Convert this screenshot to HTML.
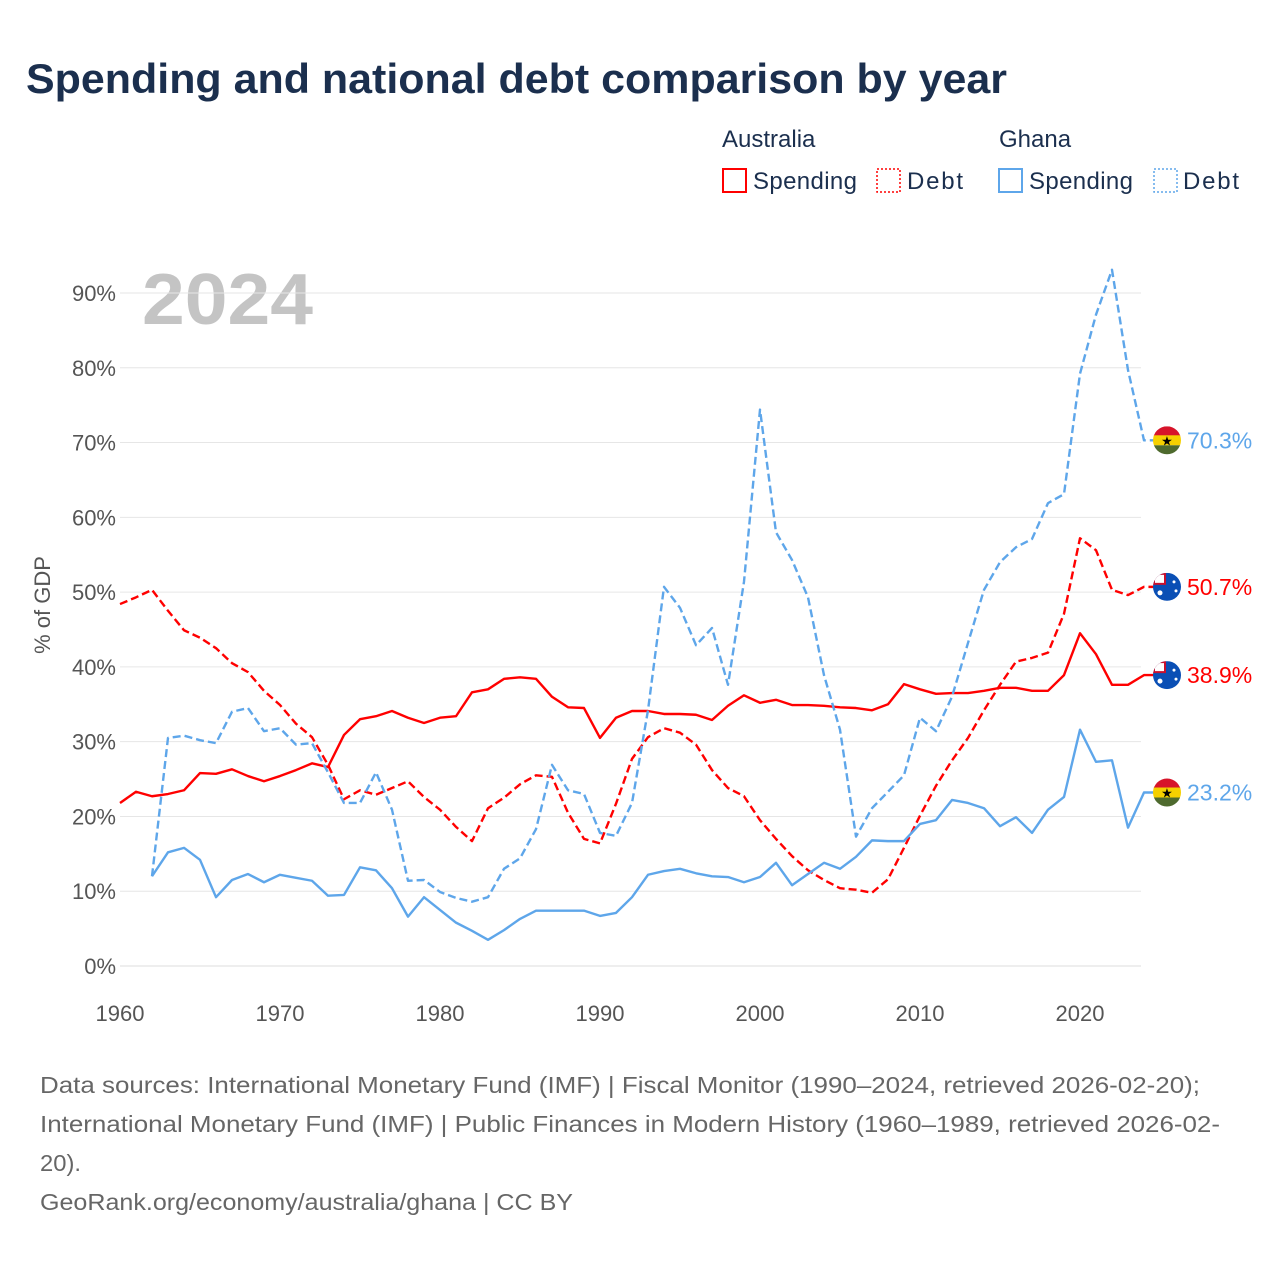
<!DOCTYPE html>
<html><head><meta charset="utf-8">
<style>
body{margin:0;background:#fff;width:1280px;height:1280px;overflow:hidden;font-family:"Liberation Sans",sans-serif;}
svg text{font-family:"Liberation Sans",sans-serif;}
</style></head>
<body>
<svg id="chart" width="1280" height="1280" xmlns="http://www.w3.org/2000/svg">
<text x="26" y="93" font-size="42" font-weight="bold" fill="#1b2f4e" textLength="981" lengthAdjust="spacingAndGlyphs">Spending and national debt comparison by year</text>
<g fill="#1b2f4e" font-size="24">
<text x="722" y="147">Australia</text>
<text x="999" y="147">Ghana</text>
<g><rect x="723" y="169" width="23" height="23" fill="none" stroke="#ff0000" stroke-width="2"/><text x="753" y="189" textLength="104">Spending</text></g>
<g><rect x="877" y="169" width="23" height="23" fill="none" stroke="#ff0000" stroke-width="1.5" stroke-dasharray="2,2"/><text x="907" y="189" textLength="56">Debt</text></g>
<g><rect x="999" y="169" width="23" height="23" fill="none" stroke="#5ea6ea" stroke-width="2"/><text x="1029" y="189" textLength="104">Spending</text></g>
<g><rect x="1154" y="169" width="23" height="23" fill="none" stroke="#5ea6ea" stroke-width="1.5" stroke-dasharray="2,2"/><text x="1183" y="189" textLength="56">Debt</text></g>
</g>
<text x="142" y="324" font-size="72" font-weight="bold" fill="#c4c4c4" textLength="171" lengthAdjust="spacingAndGlyphs">2024</text>
<text transform="translate(50,605) rotate(-90)" text-anchor="middle" font-size="22" fill="#555">% of GDP</text>
<g id="grid"></g><g id="series"></g><g id="ends"></g>
<g font-size="23" fill="#666">
<text x="40" y="1093" textLength="1160" lengthAdjust="spacingAndGlyphs">Data sources: International Monetary Fund (IMF) | Fiscal Monitor (1990–2024, retrieved 2026-02-20);</text>
<text x="40" y="1132" textLength="1180" lengthAdjust="spacingAndGlyphs">International Monetary Fund (IMF) | Public Finances in Modern History (1960–1989, retrieved 2026-02-</text>
<text x="40" y="1171" textLength="41" lengthAdjust="spacingAndGlyphs">20).</text>
<text x="40" y="1210" textLength="533" lengthAdjust="spacingAndGlyphs">GeoRank.org/economy/australia/ghana | CC BY</text>
</g>
</svg>
<script>
const yTicks=[0,10,20,30,40,50,60,70,80,90];
const xTicks=[1960,1970,1980,1990,2000,2010,2020];
const ausSpending=[21.8,23.3,22.7,23.0,23.5,25.8,25.7,26.3,25.4,24.7,25.4,26.2,27.1,26.6,30.9,33.0,33.4,34.1,33.2,32.5,33.2,33.4,36.6,37.0,38.4,38.6,38.4,36.0,34.6,34.5,30.5,33.2,34.1,34.1,33.7,33.7,33.6,32.9,34.8,36.2,35.2,35.6,34.9,34.9,34.8,34.6,34.5,34.2,35.0,37.7,37.0,36.4,36.5,36.5,36.8,37.2,37.2,36.8,36.8,38.9,44.5,41.7,37.6,37.6,38.9];
const ausDebt=[48.4,49.3,50.3,47.5,44.9,43.9,42.5,40.5,39.3,36.8,34.9,32.4,30.6,26.9,22.3,23.5,22.9,23.8,24.7,22.6,20.9,18.6,16.7,21.1,22.5,24.3,25.5,25.3,20.5,17.0,16.4,21.7,27.7,30.6,31.8,31.2,29.6,26.2,23.8,22.7,19.5,17.0,14.7,12.8,11.5,10.4,10.2,9.8,11.6,15.8,20.1,24.1,27.5,30.5,34.2,37.6,40.7,41.2,41.9,47.1,57.2,55.6,50.3,49.6,50.7];
const ghaSpending=[null,null,12.0,15.2,15.8,14.2,9.2,11.5,12.3,11.2,12.2,11.8,11.4,9.4,9.5,13.2,12.8,10.4,6.6,9.2,7.5,5.8,4.7,3.5,4.8,6.3,7.4,7.4,7.4,7.4,6.7,7.1,9.2,12.2,12.7,13.0,12.4,12.0,11.9,11.2,11.9,13.8,10.8,12.3,13.8,13.0,14.6,16.8,16.7,16.7,19.0,19.5,22.2,21.8,21.1,18.7,19.9,17.8,20.9,22.6,31.6,27.3,27.5,18.5,23.2];
const ghaDebt=[null,null,12.0,30.5,30.8,30.2,29.8,34.0,34.5,31.4,31.8,29.6,29.8,25.9,21.8,21.8,25.9,20.9,11.4,11.5,9.9,9.1,8.6,9.2,13.0,14.4,18.3,26.9,23.5,23.0,17.8,17.4,21.8,34.2,50.7,47.9,42.9,45.2,37.6,51.4,74.4,58.0,54.3,49.3,38.9,31.6,17.3,21.1,23.3,25.5,33.2,31.4,36.0,43.2,50.3,54.0,56.0,57.1,61.9,63.1,79.2,87.1,93.1,79.7,70.3];
const startYear=1960;
const NS="http://www.w3.org/2000/svg";
const X=y=>120+(y-1960)*16;
const Y=v=>966-v*7.478;
function mk(t,a,p){const e=document.createElementNS(NS,t);for(const k in a)e.setAttribute(k,a[k]);p.appendChild(e);return e;}
const grid=document.getElementById('grid');
yTicks.forEach(t=>{
  const l=mk('line',{x1:120,x2:1141,y1:Y(t),y2:Y(t),stroke:t===0?'#ddd':'#e6e6e6','stroke-width':1},grid);
  
  
  const tx=mk('text',{x:116,y:Y(t)+8,'text-anchor':'end','font-size':22,fill:'#555'},grid);
  tx.textContent=t+'%';
  
  
});
xTicks.forEach(t=>{
  const tx=mk('text',{x:X(t),y:1021,'text-anchor':'middle','font-size':22,fill:'#555'},grid);
  tx.textContent=t;
  
  
});
const sg=document.getElementById('series');
function line(arr,color,dash,name){
  let d='';let last=null;
  arr.forEach((v,i)=>{if(v==null)return;const yr=startYear+i;d+=(d?'L':'M')+X(yr)+','+Y(v);last=[yr,v];});
  d+='L'+(X(last[0])+11)+','+Y(last[1]);
  const p=mk('path',{d:d,fill:'none',stroke:color,'stroke-width':2.4,'stroke-linejoin':'round'},sg);
  if(dash)p.setAttribute('stroke-dasharray','8,4');
  
  
  return last;
}
const ends=document.getElementById('ends');
function flag(kind,v,color,name){
  const cx=1167,cy=Y(v);
  const g=mk('g',{},ends);
  
  
  const cid='c'+name;
  const cp=mk('clipPath',{id:cid},g);mk('circle',{cx:cx,cy:cy,r:14},cp);
  const f=mk('g',{'clip-path':'url(#'+cid+')'},g);
  if(kind==='gh'){
    mk('rect',{x:cx-14,y:cy-14,width:28,height:10,fill:'#d7142a'},f);
    mk('rect',{x:cx-14,y:cy-5,width:28,height:10,fill:'#f5d000'},f);
    mk('rect',{x:cx-14,y:cy+5,width:28,height:10,fill:'#4e6a2e'},f);
    const s=mk('text',{x:cx,y:cy+5,'text-anchor':'middle','font-size':13,fill:'#000'},f);s.textContent='★';
  }else{
    mk('rect',{x:cx-14,y:cy-14,width:28,height:28,fill:'#0a4fb5'},f);
    mk('rect',{x:cx-14,y:cy-14,width:13,height:12,fill:'#c8102e'},f);
    mk('rect',{x:cx-12,y:cy-12,width:9,height:8,fill:'#fff'},f);
    mk('circle',{cx:cx-7,cy:cy+6,r:2.5,fill:'#fff'},f);
    mk('circle',{cx:cx+7,cy:cy-5,r:1.5,fill:'#fff'},f);
    mk('circle',{cx:cx+9,cy:cy+4,r:1.5,fill:'#fff'},f);
  }
  const t=mk('text',{x:1187,y:cy+8,'font-size':23,fill:color},g);
  t.textContent=v.toFixed(1)+'%';
}
const a1=line(ausSpending,'#ff0000',false,'australia-spending-line');
const a2=line(ausDebt,'#ff0000',true,'australia-debt-line');
const g1=line(ghaSpending,'#5ea6ea',false,'ghana-spending-line');
const g2=line(ghaDebt,'#5ea6ea',true,'ghana-debt-line');
flag('gh',g2[1],'#5ea6ea','ghana-debt-end-label');
flag('au',a2[1],'#ff0000','australia-debt-end-label');
flag('au',a1[1],'#ff0000','australia-spending-end-label');
flag('gh',g1[1],'#5ea6ea','ghana-spending-end-label');
</script>
</body></html>
